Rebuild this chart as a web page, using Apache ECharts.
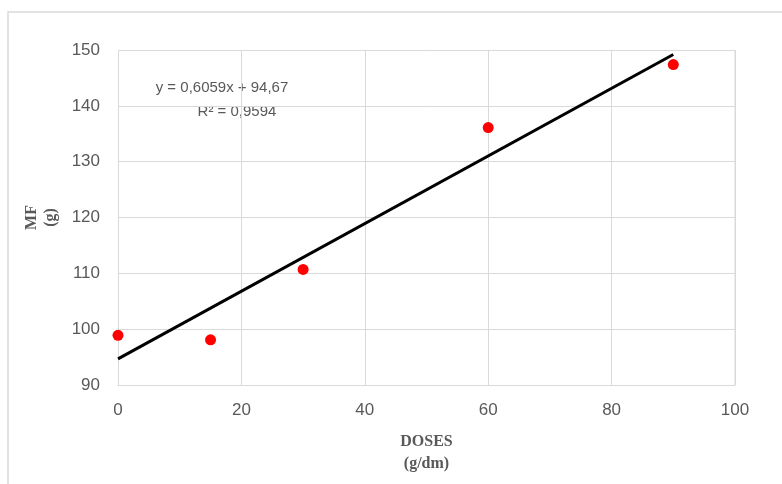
<!DOCTYPE html>
<html>
<head>
<meta charset="utf-8">
<script src="https://cdn.jsdelivr.net/npm/echarts@6/dist/echarts.min.js"></script>
<style>html,body{margin:0;padding:0;background:#fff}#c{width:782px;height:484px}</style>
</head>
<body>
<div id="c"></div>
<script>
var doses = [0, 15, 30, 60, 90];
var mf = [98.9, 98.1, 110.7, 136.1, 147.4];
var trendX = [0, 90];
var trendY = [94.67, 149.2];
var xTicks = [0, 20, 40, 60, 80, 100];
var yTicks = [90, 100, 110, 120, 130, 140, 150];
var equationText = 'y = 0,6059x + 94,67';
var r2Text = 'R² = 0,9594';

var chart = echarts.init(document.getElementById('c'));
var gray = '#595959';
chart.setOption({
  animation: false,
  grid: {left: 118, right: 47, top: 50, bottom: 99},
  xAxis: {
    type: 'value', min: xTicks[0], max: xTicks[xTicks.length - 1], interval: 20,
    name: 'DOSES\n(g/dm)', nameLocation: 'middle', nameGap: 46,
    nameTextStyle: {fontFamily: 'Liberation Serif', fontWeight: 'bold', fontSize: 16, color: gray, lineHeight: 22},
    axisLine: {lineStyle: {color: '#d9d9d9', width: 1}},
    axisTick: {show: false},
    axisLabel: {color: gray, fontSize: 17, fontFamily: 'Liberation Sans', margin: 17},
    splitLine: {show: true, lineStyle: {color: '#d9d9d9', width: 1}}
  },
  yAxis: {
    type: 'value', min: yTicks[0], max: yTicks[yTicks.length - 1], interval: 10,
    name: 'MF\n(g)', nameLocation: 'middle', nameRotate: 90, nameGap: 56,
    nameTextStyle: {fontFamily: 'Liberation Serif', fontWeight: 'bold', fontSize: 16, color: gray, lineHeight: 19},
    axisLine: {show: false},
    axisTick: {show: false},
    axisLabel: {color: gray, fontSize: 17, fontFamily: 'Liberation Sans', margin: 18},
    splitLine: {show: true, lineStyle: {color: '#d9d9d9', width: 1}}
  },
  graphic: [
    {type: 'rect', shape: {x: 8, y: 12, width: 800, height: 500}, style: {fill: 'none', stroke: '#d9d9d9', lineWidth: 1.5}, z: -1},
    {type: 'line', shape: {x1: 735, y1: 50, x2: 735, y2: 385}, style: {stroke: '#d9d9d9', lineWidth: 1}},
    {type: 'text', x: 222, y: 88, style: {text: equationText, fill: gray, font: '15px "Liberation Sans"', align: 'center', verticalAlign: 'middle'}},
    {type: 'text', x: 237, y: 112, style: {text: r2Text, fill: gray, font: '15px "Liberation Sans"', align: 'center', verticalAlign: 'middle'}}
  ],
  series: [
    {
      type: 'line', data: trendX.map(function (x, i) { return [x, trendY[i]]; }),
      symbol: 'none', lineStyle: {color: '#000', width: 3}, z: 2
    },
    {
      type: 'scatter', data: doses.map(function (x, i) { return [x, mf[i]]; }),
      symbol: 'circle', symbolSize: 11, itemStyle: {color: '#ff0000', opacity: 1}, z: 3
    }
  ]
});
</script>
</body>
</html>
